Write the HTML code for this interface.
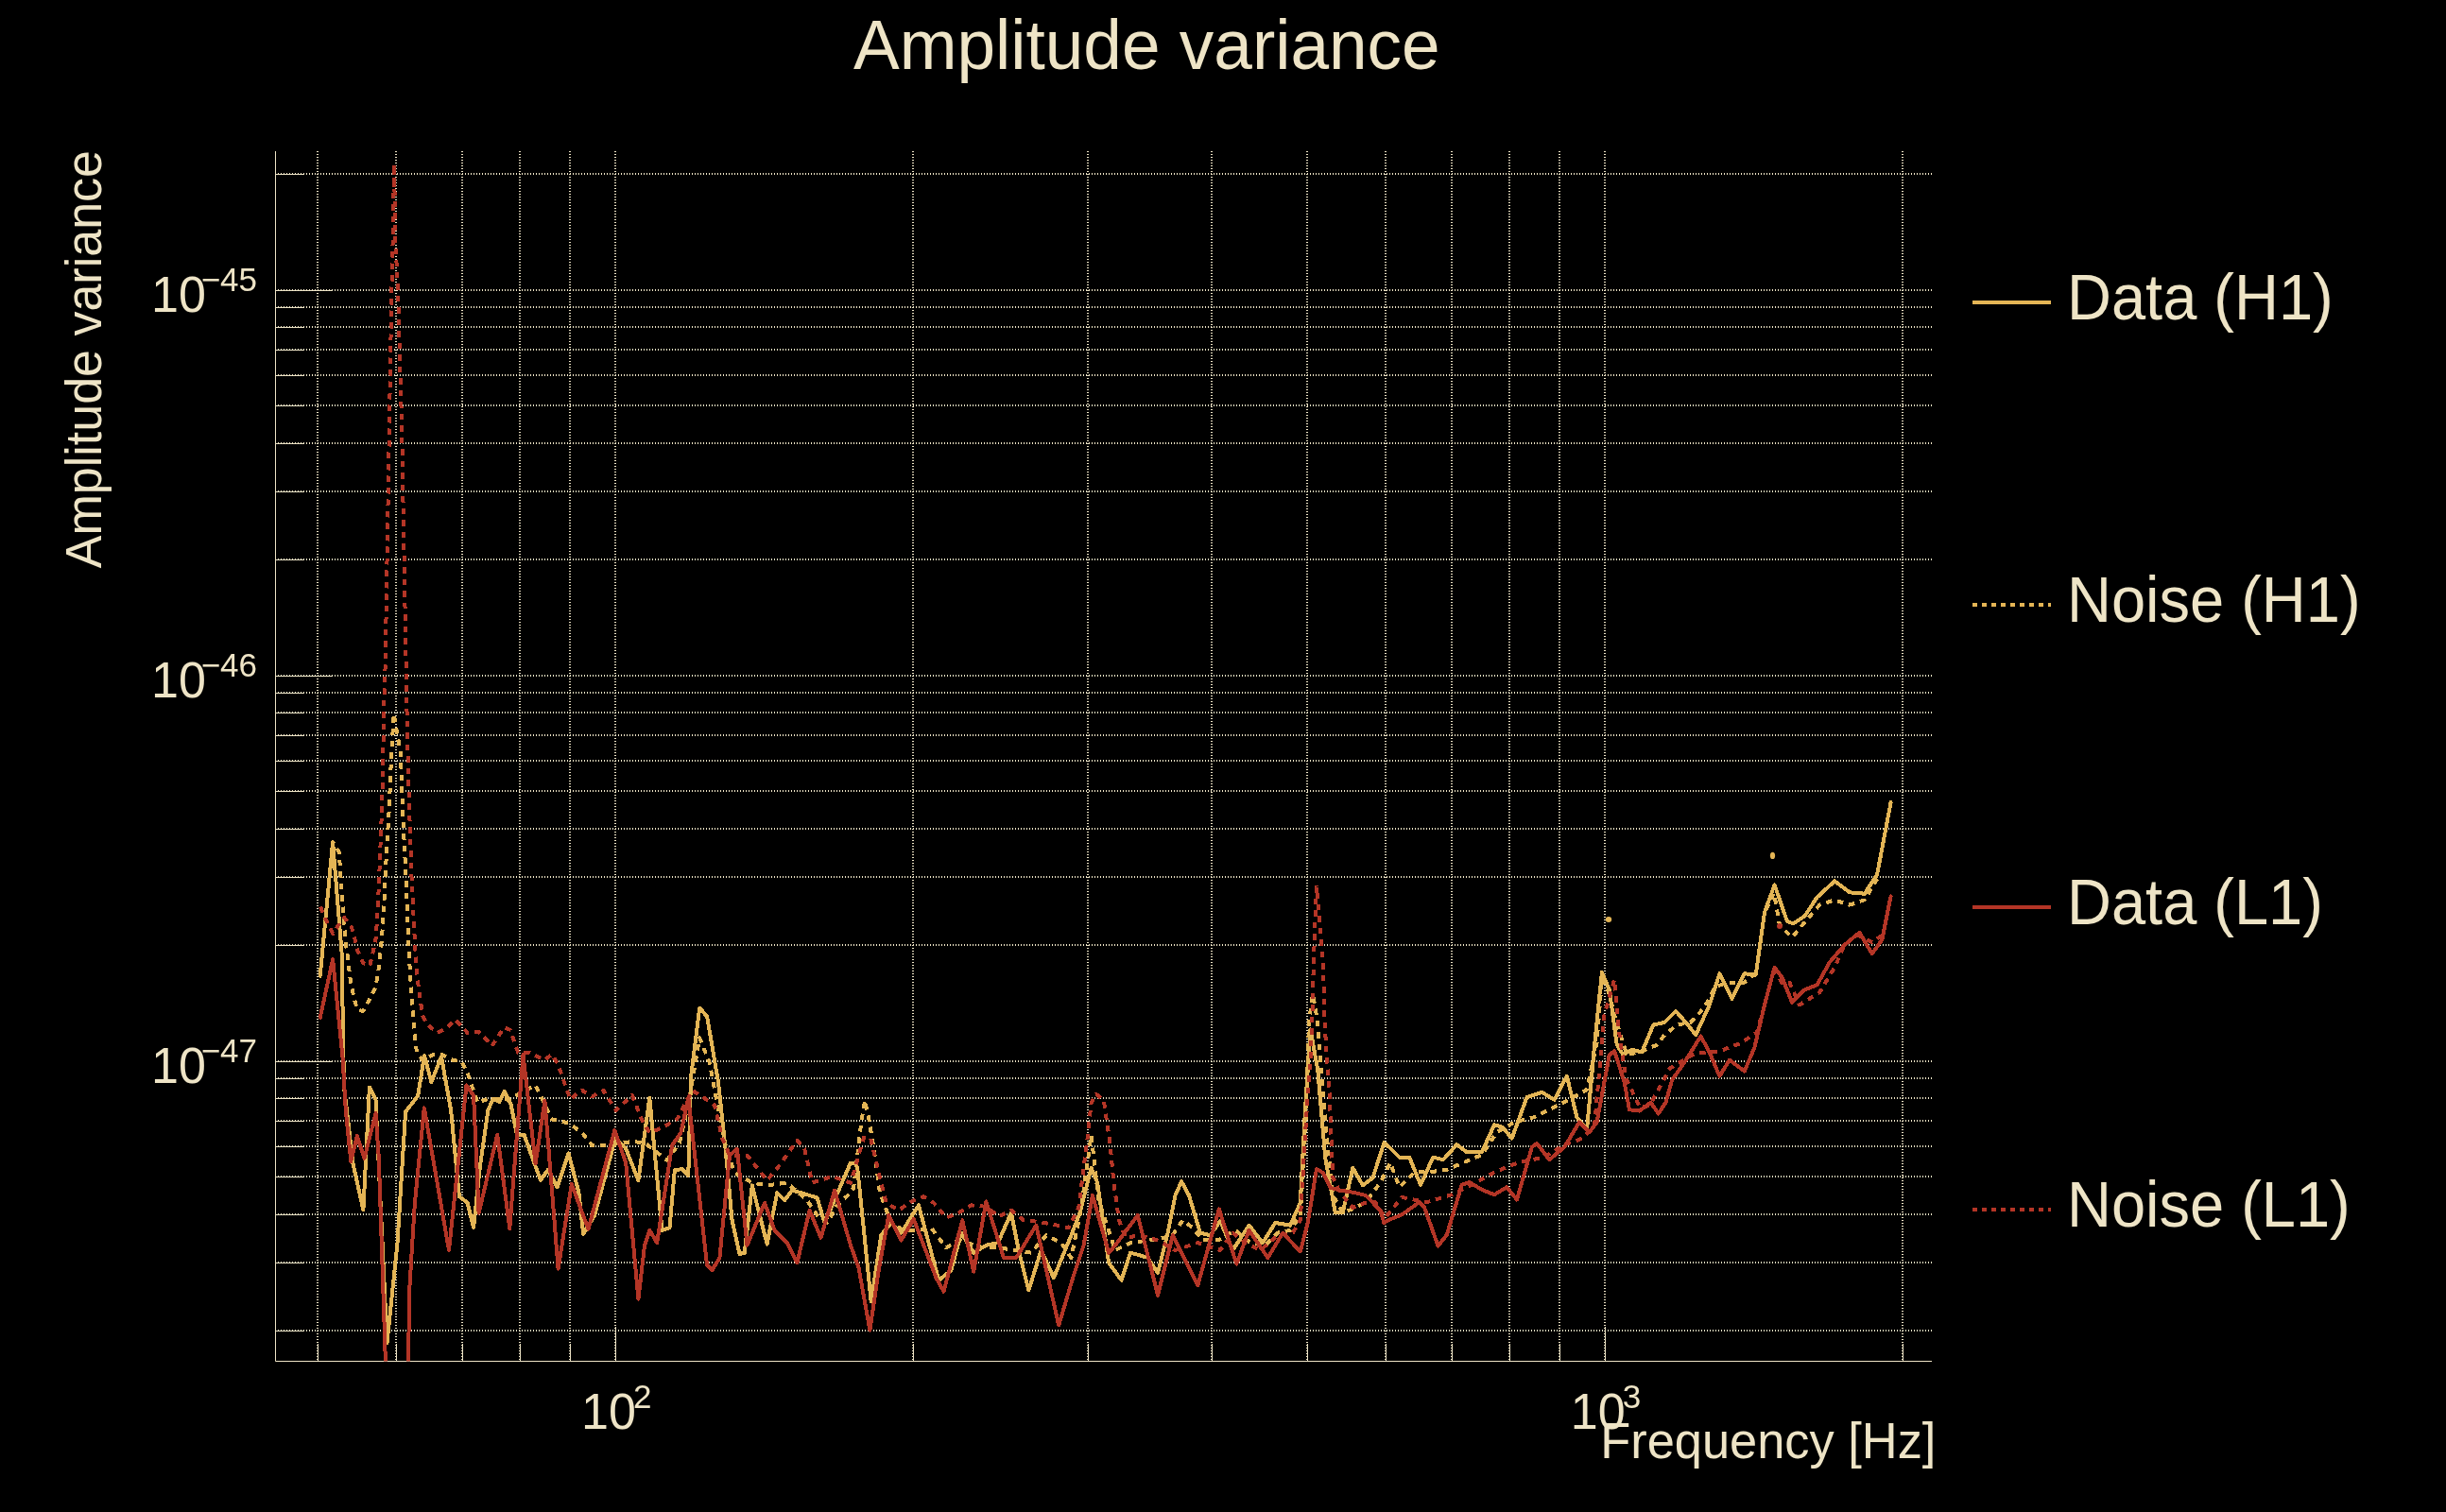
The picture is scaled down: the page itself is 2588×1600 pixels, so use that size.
<!DOCTYPE html><html><head><meta charset="utf-8"><style>html,body{margin:0;padding:0;background:#000;width:2588px;height:1600px;overflow:hidden}svg{display:block;will-change:transform}text{font-family:"Liberation Sans",sans-serif;fill:#eee4c6}</style></head><body>
<svg width="2588" height="1600" viewBox="0 0 2588 1600">
<rect width="2588" height="1600" fill="#000"/>
<path d="M336 160V1440M419 160V1440M489 160V1440M550 160V1440M603 160V1440M651 160V1440M966 160V1440M1151 160V1440M1282 160V1440M1383 160V1440M1466 160V1440M1536 160V1440M1597 160V1440M1650 160V1440M1698 160V1440M2013 160V1440" stroke="#eee4c6" stroke-width="2" stroke-dasharray="1 2" fill="none" shape-rendering="crispEdges"/>
<path d="M291 307H2044M291 184H2044M291 715H2044M291 592H2044M291 520H2044M291 469H2044M291 429H2044M291 397H2044M291 370H2044M291 346H2044M291 325H2044M291 1123H2044M291 1000H2044M291 928H2044M291 877H2044M291 837H2044M291 805H2044M291 778H2044M291 754H2044M291 733H2044M291 1408H2044M291 1336H2044M291 1285H2044M291 1245H2044M291 1213H2044M291 1186H2044M291 1162H2044M291 1141H2044" stroke="#eee4c6" stroke-width="2" stroke-dasharray="1 2" fill="none" shape-rendering="crispEdges"/>
<path d="M336.5 1440V1422M419.5 1440V1422M489.5 1440V1422M550.5 1440V1422M603.5 1440V1422M651.5 1440V1404M966.5 1440V1422M1151.5 1440V1422M1282.5 1440V1422M1383.5 1440V1422M1466.5 1440V1422M1536.5 1440V1422M1597.5 1440V1422M1650.5 1440V1422M1698.5 1440V1404M2013.5 1440V1422M291 307.5H351M291 184.5H321M291 715.5H351M291 592.5H321M291 520.5H321M291 469.5H321M291 429.5H321M291 397.5H321M291 370.5H321M291 346.5H321M291 325.5H321M291 1123.5H351M291 1000.5H321M291 928.5H321M291 877.5H321M291 837.5H321M291 805.5H321M291 778.5H321M291 754.5H321M291 733.5H321M291 1408.5H321M291 1336.5H321M291 1285.5H321M291 1245.5H321M291 1213.5H321M291 1186.5H321M291 1162.5H321M291 1141.5H321" stroke="#eee4c6" stroke-width="1" fill="none"/>
<path d="M291.5 160V1440.5H2044" stroke="#eee4c6" stroke-width="1" fill="none"/>
<clipPath id="clip"><rect x="291.5" y="160.0" width="1752.5" height="1280.5"/></clipPath>
<g clip-path="url(#clip)">
<path d="M338.7 1032.8 L352.1 891.3 L361.5 1006.9 L364.0 1150.0 L373.5 1231.3 L384.4 1280.4 L390.9 1150.6 L397.5 1163.6 L409.5 1421.2 L420.4 1316.4 L429.1 1176.7 L442.2 1159.3 L449.0 1117.0 L456.4 1145.0 L467.0 1118.0 L477.1 1174.6 L485.9 1266.2 L494.6 1272.8 L501.1 1299.0 L507.7 1235.7 L516.4 1174.6 L521.9 1162.6 L528.4 1165.8 L533.9 1154.9 L540.4 1168.0 L547.0 1200.8 L554.6 1200.8 L565.5 1231.3 L572.1 1248.8 L579.7 1237.9 L589.5 1256.4 L601.5 1220.4 L612.4 1261.9 L617.2 1305.9 L629.1 1286.0 L651.0 1205.0 L662.0 1215.0 L675.4 1249.0 L687.3 1161.7 L700.5 1301.9 L708.5 1299.3 L713.8 1238.4 L721.7 1237.1 L728.3 1243.7 L731.0 1140.5 L740.2 1066.5 L748.1 1075.7 L760.1 1145.8 L768.0 1219.9 L774.6 1291.3 L782.5 1327.0 L787.8 1325.7 L795.8 1254.3 L811.6 1316.5 L822.2 1262.2 L830.2 1270.2 L838.1 1259.6 L847.4 1262.2 L864.6 1267.5 L872.5 1294.0 L900.0 1230.5 L904.6 1230.5 L907.2 1235.8 L921.7 1377.3 L932.3 1307.2 L942.9 1294.0 L953.5 1304.6 L972.0 1275.4 L993.2 1354.8 L1006.4 1344.2 L1017.0 1304.6 L1030.2 1325.7 L1043.4 1317.8 L1056.0 1315.0 L1069.9 1283.4 L1077.8 1323.0 L1088.4 1365.4 L1101.6 1323.0 L1114.9 1352.2 L1133.4 1307.2 L1142.6 1283.4 L1154.6 1235.8 L1161.2 1251.6 L1173.1 1336.3 L1186.6 1354.8 L1195.9 1325.7 L1205.0 1328.0 L1214.4 1331.0 L1225.0 1346.9 L1235.6 1304.6 L1243.5 1264.9 L1250.1 1250.3 L1258.0 1264.9 L1269.9 1304.6 L1280.5 1307.2 L1291.0 1292.0 L1304.3 1323.0 L1321.5 1296.6 L1336.1 1315.1 L1349.3 1294.0 L1365.2 1296.6 L1375.8 1272.8 L1381.1 1172.3 L1386.5 1089.3 L1394.3 1132.6 L1402.2 1225.2 L1412.8 1283.4 L1420.7 1283.4 L1431.3 1235.8 L1441.9 1254.3 L1452.5 1246.3 L1464.4 1209.3 L1470.0 1214.0 L1480.6 1224.6 L1491.2 1224.6 L1503.1 1253.7 L1516.3 1224.6 L1526.9 1227.2 L1541.4 1211.3 L1552.0 1219.3 L1567.9 1219.3 L1581.1 1190.2 L1590.0 1193.0 L1599.6 1204.7 L1615.5 1161.1 L1631.4 1155.8 L1644.6 1163.7 L1657.8 1138.6 L1668.4 1182.2 L1679.0 1195.4 L1686.9 1108.1 L1694.9 1028.8 L1702.8 1047.3 L1710.7 1105.5 L1717.4 1116.1 L1726.6 1110.8 L1737.2 1113.4 L1749.3 1084.6 L1761.2 1081.9 L1773.1 1070.0 L1783.7 1081.9 L1794.2 1095.1 L1808.8 1063.4 L1819.4 1030.3 L1832.6 1056.8 L1845.8 1030.3 L1857.7 1031.6 L1867.0 965.5 L1877.6 936.4 L1890.8 974.8 L1897.4 977.4 L1909.3 969.5 L1922.5 949.6 L1941.1 932.4 L1956.9 944.3 L1972.8 945.7 L1986.0 925.8 L2000.6 849.1" stroke="#e4b555" stroke-width="4" fill="none" stroke-linejoin="round" stroke-linecap="round" shape-rendering="crispEdges"/>
<path d="M338.7 1032.8 L352.1 891.3 L358.8 901.9 L361.2 938.5 L363.0 964.3 L365.3 994.7 L368.4 1016.0 L369.9 1031.2 L372.2 1044.9 L375.2 1058.6 L378.2 1068.5 L384.0 1070.0 L390.4 1058.6 L397.3 1044.9 L400.3 1028.2 L402.6 1006.9 L404.1 991.7 L405.6 967.4 L407.1 941.5 L408.7 906.5 L410.2 880.6 L411.7 857.0 L414.1 798.0 L416.7 755.4 L424.0 798.0 L426.0 857.6 L427.1 880.0 L430.1 939.0 L432.1 998.7 L435.1 1048.0 L438.0 1088.0 L441.0 1113.8 L447.0 1121.7 L458.9 1115.8 L466.8 1115.8 L478.7 1121.7 L488.7 1123.7 L494.6 1135.3 L499.0 1148.4 L505.5 1167.0 L516.4 1162.6 L538.2 1163.6 L566.6 1148.4 L584.0 1184.4 L595.0 1186.6 L603.7 1189.8 L615.9 1198.7 L626.5 1212.0 L642.3 1212.0 L668.8 1208.0 L682.0 1209.3 L705.8 1227.8 L719.0 1209.3 L729.6 1161.7 L740.2 1098.2 L750.8 1124.7 L758.7 1167.0 L766.7 1209.3 L777.2 1241.0 L795.8 1251.6 L811.6 1254.3 L832.8 1251.6 L854.0 1270.2 L864.6 1286.0 L875.1 1294.0 L885.7 1275.4 L900.0 1262.2 L903.2 1256.9 L911.2 1188.1 L915.1 1164.3 L919.1 1182.9 L924.4 1214.6 L931.0 1262.2 L942.9 1294.0 L956.1 1301.9 L969.4 1301.9 L985.2 1299.3 L993.2 1309.8 L1001.1 1320.4 L1014.3 1312.5 L1040.8 1320.4 L1056.7 1320.4 L1075.2 1323.0 L1091.0 1325.7 L1106.9 1307.2 L1122.8 1315.1 L1133.4 1331.0 L1144.0 1278.1 L1154.6 1201.4 L1162.5 1270.2 L1180.0 1323.0 L1195.9 1315.1 L1220.0 1312.0 L1240.0 1308.0 L1251.4 1291.3 L1262.0 1299.3 L1272.6 1312.5 L1290.0 1312.0 L1307.0 1301.9 L1322.9 1315.1 L1338.7 1317.8 L1352.0 1304.6 L1365.2 1301.9 L1375.8 1286.0 L1381.0 1200.0 L1385.0 1081.4 L1389.0 1052.0 L1394.2 1081.4 L1396.0 1106.0 L1403.5 1198.7 L1410.2 1264.9 L1420.7 1283.4 L1434.0 1278.1 L1445.0 1272.0 L1460.4 1251.6 L1471.0 1230.5 L1480.6 1256.3 L1496.5 1240.4 L1512.3 1240.4 L1530.8 1237.8 L1549.4 1229.8 L1567.9 1221.9 L1583.8 1198.1 L1602.3 1187.5 L1623.4 1182.2 L1639.3 1174.3 L1655.2 1166.3 L1679.0 1153.1 L1689.6 1102.9 L1695.0 1035.0 L1702.0 1050.0 L1708.1 1073.8 L1712.0 1087.0 L1721.3 1116.1 L1734.6 1113.4 L1753.2 1105.7 L1761.2 1095.1 L1774.4 1084.6 L1788.9 1081.9 L1803.5 1066.0 L1814.1 1044.9 L1827.3 1039.6 L1845.8 1039.6 L1858.0 1030.0 L1867.0 965.5 L1877.0 945.0 L1882.9 978.7 L1896.1 992.0 L1909.3 976.1 L1925.2 957.6 L1941.1 952.3 L1956.9 957.6 L1972.8 952.3 L1988.7 925.8" stroke="#e4b555" stroke-width="4" stroke-dasharray="6.5 6" fill="none" stroke-linejoin="round" shape-rendering="crispEdges"/>
<path d="M338.7 1076.9 L352.1 1015.3 L362.6 1120.0 L365.8 1174.6 L371.3 1229.1 L377.8 1201.8 L385.5 1225.8 L397.5 1177.8 L400.8 1224.8 L408.5 1460.0 L412.0 1520.0 L428.0 1520.0 L431.5 1460.0 L433.5 1360.0 L438.9 1272.8 L448.8 1172.4 L475.0 1323.0 L493.5 1148.4 L501.1 1159.3 L506.6 1283.7 L526.2 1200.8 L539.3 1300.0 L553.5 1116.0 L566.6 1231.3 L576.4 1164.7 L590.6 1342.6 L604.8 1253.1 L622.5 1300.6 L650.3 1196.1 L662.2 1230.5 L675.4 1374.7 L682.0 1317.8 L687.3 1301.9 L695.2 1315.1 L711.1 1212.0 L720.4 1198.7 L728.3 1161.7 L748.1 1338.9 L753.4 1344.2 L761.4 1331.0 L772.0 1222.5 L779.9 1215.9 L790.5 1317.8 L809.0 1272.8 L819.6 1301.9 L832.8 1315.1 L843.4 1336.3 L856.6 1280.7 L868.5 1309.8 L883.1 1259.6 L900.0 1317.8 L908.5 1341.6 L920.4 1407.7 L929.7 1344.2 L940.3 1286.0 L953.5 1312.5 L966.7 1290.0 L990.5 1352.2 L998.5 1366.7 L1018.3 1291.3 L1030.2 1345.6 L1043.4 1271.5 L1062.0 1331.0 L1075.2 1331.0 L1096.3 1296.6 L1120.2 1402.4 L1136.0 1349.5 L1146.6 1317.8 L1155.9 1264.9 L1173.1 1325.7 L1180.0 1317.8 L1203.8 1286.0 L1225.0 1370.7 L1240.8 1307.2 L1267.3 1360.1 L1289.8 1279.4 L1308.3 1337.6 L1321.5 1301.9 L1341.4 1331.0 L1357.2 1304.6 L1375.8 1324.4 L1383.7 1294.0 L1393.0 1237.1 L1399.6 1241.0 L1407.5 1256.9 L1418.1 1259.6 L1434.0 1262.2 L1445.0 1265.0 L1460.4 1280.7 L1464.4 1294.0 L1470.0 1290.7 L1483.2 1285.4 L1501.7 1272.2 L1507.0 1277.5 L1521.6 1318.5 L1530.8 1306.6 L1546.7 1253.7 L1554.7 1251.0 L1567.9 1258.9 L1581.1 1264.2 L1594.3 1256.3 L1604.9 1269.5 L1620.8 1214.0 L1626.1 1210.0 L1639.3 1227.2 L1655.2 1214.0 L1671.0 1187.5 L1681.6 1198.1 L1689.6 1187.5 L1702.8 1116.1 L1708.1 1112.1 L1718.7 1145.2 L1724.0 1174.3 L1734.6 1175.6 L1746.6 1166.6 L1754.6 1178.5 L1762.5 1166.6 L1769.1 1142.8 L1782.3 1124.2 L1799.5 1096.5 L1808.8 1113.7 L1819.4 1138.8 L1829.9 1121.6 L1845.8 1133.5 L1856.4 1108.4 L1867.0 1063.4 L1877.6 1023.7 L1885.5 1034.3 L1896.1 1060.7 L1909.3 1047.5 L1922.5 1042.2 L1935.8 1018.4 L1951.6 999.9 L1967.5 986.7 L1980.7 1009.2 L1991.3 994.6 L2000.6 948.3" stroke="#b43526" stroke-width="4" fill="none" stroke-linejoin="round" stroke-linecap="round" shape-rendering="crispEdges"/>
<path d="M339.0 959.7 L344.8 973.4 L352.4 987.9 L357.7 979.5 L364.5 971.2 L372.2 981.8 L376.7 998.5 L378.2 1006.1 L384.3 1019.1 L391.2 1022.1 L394.2 1009.2 L397.3 996.3 L398.8 976.5 L400.3 949.1 L401.8 912.6 L403.3 874.6 L404.2 851.0 L405.4 798.0 L405.8 758.0 L407.8 700.0 L409.8 577.0 L411.8 458.0 L414.5 300.0 L415.5 260.0 L417.0 174.0 L418.5 260.0 L420.8 300.0 L425.3 458.0 L427.0 560.0 L429.6 700.0 L430.6 758.0 L431.6 798.0 L433.0 851.0 L435.1 919.4 L439.0 998.7 L442.0 1038.4 L447.0 1074.0 L451.9 1084.0 L462.9 1093.0 L472.8 1088.0 L481.7 1079.0 L488.7 1086.0 L494.6 1093.0 L506.5 1092.0 L516.4 1101.9 L520.4 1106.9 L526.3 1098.0 L533.3 1087.0 L540.2 1090.0 L545.2 1105.9 L548.2 1113.8 L560.0 1113.8 L568.0 1117.8 L576.0 1121.7 L583.9 1115.8 L590.6 1126.5 L595.0 1139.6 L599.4 1152.7 L603.7 1163.6 L612.4 1154.9 L615.9 1153.8 L626.5 1160.4 L638.4 1153.8 L651.6 1174.9 L668.8 1159.0 L679.4 1185.5 L687.3 1198.7 L700.5 1193.4 L716.4 1184.2 L732.3 1153.8 L742.9 1160.4 L756.1 1169.6 L764.0 1204.0 L772.0 1222.5 L790.5 1222.5 L811.6 1249.0 L824.9 1233.1 L843.4 1206.7 L851.3 1215.9 L859.3 1251.6 L880.4 1245.0 L900.0 1251.6 L903.2 1241.0 L913.8 1204.0 L921.0 1204.0 L929.7 1241.0 L937.6 1272.8 L950.8 1280.7 L964.1 1271.5 L977.3 1266.2 L987.9 1272.8 L1001.1 1288.7 L1014.3 1283.4 L1027.6 1275.4 L1043.4 1276.8 L1056.7 1287.4 L1069.9 1280.7 L1083.1 1291.3 L1096.3 1292.6 L1112.2 1295.3 L1130.7 1299.3 L1141.3 1278.1 L1150.6 1204.0 L1154.6 1167.0 L1159.8 1157.7 L1167.8 1164.3 L1174.4 1209.3 L1178.4 1251.6 L1184.0 1291.3 L1190.6 1309.8 L1206.5 1307.2 L1225.0 1312.5 L1243.5 1323.0 L1267.3 1315.1 L1291.1 1323.0 L1304.3 1304.6 L1317.6 1315.1 L1333.4 1323.0 L1352.0 1307.2 L1367.8 1304.6 L1375.8 1291.3 L1381.1 1198.7 L1385.0 1140.0 L1387.0 1115.8 L1388.3 1078.7 L1389.6 1028.5 L1390.9 990.1 L1392.9 938.5 L1397.5 990.1 L1400.2 1028.5 L1401.5 1078.7 L1403.5 1115.8 L1406.2 1145.8 L1410.2 1246.3 L1418.1 1262.2 L1431.3 1278.1 L1444.5 1272.8 L1455.0 1272.0 L1465.7 1288.7 L1483.2 1266.9 L1509.7 1272.2 L1536.1 1264.2 L1562.6 1251.0 L1581.1 1240.4 L1607.6 1229.8 L1634.0 1224.6 L1655.2 1211.3 L1671.0 1206.0 L1686.9 1192.8 L1697.5 1073.8 L1708.1 1036.7 L1712.0 1084.3 L1720.0 1140.0 L1735.0 1172.0 L1745.0 1170.0 L1753.2 1156.0 L1766.5 1130.8 L1792.9 1115.0 L1819.4 1112.3 L1840.5 1104.4 L1859.0 1092.5 L1867.0 1063.4 L1877.6 1023.7 L1885.0 1040.0 L1893.4 1039.6 L1904.0 1063.4 L1925.2 1050.2 L1941.1 1023.7 L1951.6 999.9 L1964.9 989.3 L1980.7 997.2 L1991.0 990.0" stroke="#b43526" stroke-width="4" stroke-dasharray="6.5 6" fill="none" stroke-linejoin="round" shape-rendering="crispEdges"/>
<ellipse cx="1702" cy="973" rx="3.2" ry="3" fill="#e4b555"/>
<ellipse cx="1875.5" cy="905.4" rx="2.6" ry="3.6" fill="#e4b555"/>
<ellipse cx="1883" cy="980" rx="3" ry="3" fill="#b43526"/>
</g>
<text transform="translate(615.0 1512) scale(1 1.04)" font-size="52">10</text>
<text transform="translate(689.4 1489.5) scale(1 1)" font-size="35" text-anchor="end">2</text>
<text transform="translate(1661.8 1512) scale(1 1.04)" font-size="52">10</text>
<text transform="translate(1736.2 1489.5) scale(1 1)" font-size="35" text-anchor="end">3</text>
<text transform="translate(160 330.0) scale(1 1.04)" font-size="52">10</text>
<text transform="translate(272 307.5) scale(1 1)" font-size="35" text-anchor="end">&#8722;45</text>
<text transform="translate(160 738.0) scale(1 1.04)" font-size="52">10</text>
<text transform="translate(272 715.5) scale(1 1)" font-size="35" text-anchor="end">&#8722;46</text>
<text transform="translate(160 1146.0) scale(1 1.04)" font-size="52">10</text>
<text transform="translate(272 1123.5) scale(1 1)" font-size="35" text-anchor="end">&#8722;47</text>
<text transform="translate(2048.4 1542.7) scale(1 1.04)" font-size="52.4" text-anchor="end">Frequency [Hz]</text>
<text transform="translate(107 159) rotate(-90) scale(1 1.04)" font-size="52" text-anchor="end">Amplitude variance</text>
<text transform="translate(903 73.3) scale(1 1.02)" font-size="73">Amplitude variance</text>
<path d="M2087 320H2170" stroke="#e4b555" stroke-width="4"/>
<text transform="translate(2187 338.3) scale(1 1.04)" font-size="65">Data (H1)</text>
<path d="M2087 640H2170" stroke="#e4b555" stroke-width="4" stroke-dasharray="5 5"/>
<text transform="translate(2187 658.3) scale(1 1.04)" font-size="65">Noise (H1)</text>
<path d="M2087 960H2170" stroke="#b43526" stroke-width="4"/>
<text transform="translate(2187 978.3) scale(1 1.04)" font-size="65">Data (L1)</text>
<path d="M2087 1280H2170" stroke="#b43526" stroke-width="4" stroke-dasharray="5 5"/>
<text transform="translate(2187 1298.3) scale(1 1.04)" font-size="65">Noise (L1)</text>
</svg></body></html>
